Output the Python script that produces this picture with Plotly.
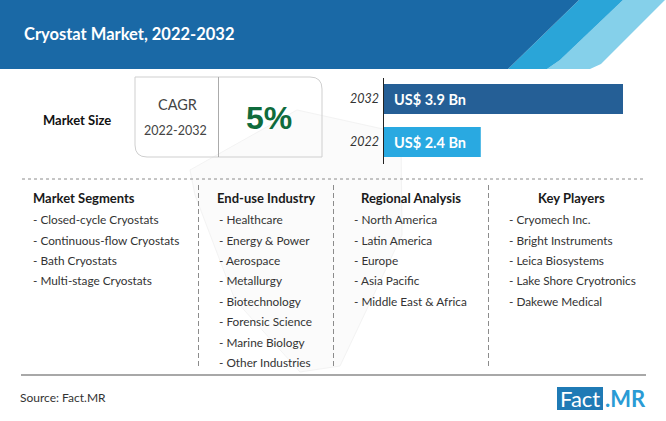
import plotly.graph_objects as go

TITLE = "Cryostat Market, 2022-2032"
years = ["2022", "2032"]
market_size = [2.4, 3.9]
bar_labels = ["US$ 2.4 Bn", "US$ 3.9 Bn"]
bar_colors = ["#29A9E1", "#255F96"]
cagr_value = "5%"
segments = ["Closed-cycle Cryostats", "Continuous-flow Cryostats", "Bath Cryostats", "Multi-stage Cryostats"]
industries = ["Healthcare", "Energy & Power", "Aerospace", "Metallurgy", "Biotechnology",
              "Forensic Science", "Marine Biology", "Other Industries"]
regions = ["North America", "Latin America", "Europe", "Asia Pacific", "Middle East & Africa"]
players = ["Cryomech Inc.", "Bright Instruments", "Leica Biosystems", "Lake Shore Cryotronics", "Dakewe Medical"]

W, H = 666, 421
FONT = "Lato"
INK = "#222222"
AXIS_FLOOR = 1.374


def px(x):
    return x / W


def py(y):
    return 1 - y / H


def path(points, close=True):
    return "M" + " L".join(f"{px(x):.5f},{py(y):.5f}" for x, y in points) + (" Z" if close else "")


shapes = []
annotations = []


def poly(points, fill, layer="below", line=None):
    shapes.append(dict(type="path", xref="paper", yref="paper", path=path(points), fillcolor=fill,
                       line=dict(width=0 if not line else 1, color=line or fill), layer=layer))


def line(x0, y0, x1, y1, color, width=1, dash="solid", layer="below"):
    shapes.append(dict(type="line", xref="paper", yref="paper", x0=px(x0), y0=py(y0), x1=px(x1), y1=py(y1),
                       line=dict(color=color, width=width, dash=dash), layer=layer))


def text(x, y, s, size=13, color=INK, anchor="left", bold=False, family=FONT):
    annotations.append(dict(xref="paper", yref="paper", x=px(x), y=py(y), text=f"<b>{s}</b>" if bold else s,
                            showarrow=False, xanchor=anchor, yanchor="middle",
                            font=dict(size=size, color=color, family=family), borderpad=0, borderwidth=0))


# faint watermark behind the lower panels
poly([(190, 170), (297, 110), (401, 133), (402, 235), (340, 366), (300, 372), (235, 300), (195, 195)],
     "#FBFBFB", line="#F3F3F3")

# header banner
poly([(623, 0), (665, 0), (601, 64), (590, 69), (547, 69), (560, 60)], "#85D0EA")
poly([(579, 0), (623, 0), (560, 60), (547, 69), (508, 69)], "#2AA5D8")
poly([(0, 0), (579, 0), (508, 69), (0, 69)], "#1A69A6")
text(24, 34, TITLE, size=16.5, color="white", bold=True)

# CAGR box
x0, x1, y0, y1, r = 135, 322, 77, 157, 12
shapes.append(dict(type="path", xref="paper", yref="paper", layer="below",
                   path=(f"M{px(x0)},{py(y0)} L{px(x1 - r)},{py(y0)} Q{px(x1)},{py(y0)} {px(x1)},{py(y0 + r)} "
                         f"L{px(x1)},{py(y1)} L{px(x0 + r)},{py(y1)} Q{px(x0)},{py(y1)} {px(x0)},{py(y1 - r)} Z"),
                   line=dict(color="#CFCFCF", width=1), fillcolor="rgba(0,0,0,0)"))
line(218.5, 77, 218.5, 157, "#ABABAB")
text(77, 120, "Market Size", size=13, color="#111111", anchor="center", bold=True)
text(177, 105, "CAGR", size=14.5, color="#444444", anchor="center")
text(175, 131, "2022-2032", size=12.5, color="#444444", anchor="center")
text(268.5, 118, cagr_value, size=32, color="#0F6B3C", anchor="center", bold=True, family="Liberation Sans")

# bar value labels (annotation y on a category axis is the category's index)
for idx, label in enumerate(bar_labels):
    annotations.append(dict(xref="x", yref="y", x=AXIS_FLOOR, y=idx, xshift=8, text=f"<b>{label}</b>",
                            showarrow=False, xanchor="left", yanchor="middle",
                            font=dict(size=14.5, color="white", family=FONT)))

# lower panel rules
line(22, 179, 645, 179, "#8C8C8C", 1, "3px,3px")
for x in (198.5, 333.5, 488.5):
    line(x, 185, x, 367, "#8C8C8C", 1, "5px,3px")
line(21, 375, 646, 375, "#A8A8A8", 2)

# columns
ROWS = [220, 240.5, 261, 281, 301.5, 322, 342.5, 362.5]
columns = [("Market Segments", 33, segments, 33),
           ("End-use Industry", 217, industries, 219),
           ("Regional Analysis", 360.5, regions, 354),
           ("Key Players", 538, players, 509)]
for head, hx, items, ix in columns:
    text(hx, 198, head, size=13, color="#1A1A1A", bold=True)
    for row, item in zip(ROWS, items):
        text(ix, row - 0.5, "- " + item, size=11.8, color="#333333")

# footer
text(20, 397, "Source: Fact.MR", size=12, color="#333333")
poly([(557, 387), (603, 387), (603, 410), (557, 410)], "#1F7AB5")
text(580, 398.5, "Fact", size=22, color="white", anchor="center")
text(605, 398.5, ".MR", size=22, color="#2A9BD5", bold=True)

fig = go.Figure(go.Bar(y=years, x=market_size, orientation="h", marker=dict(color=bar_colors, line_width=0),
                       hoverinfo="skip"))
fig.update_layout(
    width=W, height=H, margin=dict(l=0, r=0, t=0, b=0), paper_bgcolor="white", plot_bgcolor="rgba(0,0,0,0)",
    showlegend=False, bargap=0.3, shapes=shapes, annotations=annotations,
    xaxis=dict(domain=[px(383.5), px(623)], range=[AXIS_FLOOR, 3.9], visible=False, fixedrange=True),
    yaxis=dict(domain=[py(163.5), py(77.5)], type="category", categoryorder="array", categoryarray=years,
               range=[-0.5, 1.5], showline=True, linecolor="#222222", linewidth=1, ticks="", showgrid=False,
               ticklabelstandoff=1, tickfont=dict(family=FONT, size=12.5, color="#333333", style="italic"),
               fixedrange=True),
)
fig.write_html("out.html", config=dict(displayModeBar=False),
               post_script="document.body.style.margin='0';document.documentElement.style.overflow='hidden';")
